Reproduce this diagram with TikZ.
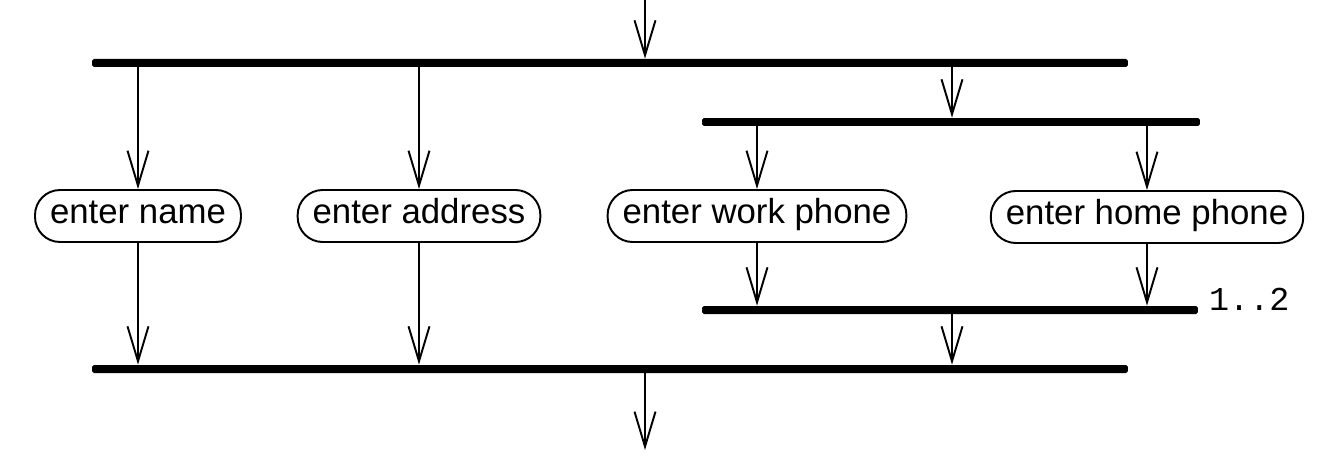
\documentclass[tikz,border=0pt]{standalone}
\usepackage{fontspec}
\setmainfont{Liberation Sans}
\newfontfamily\barlabelfont{Liberation Mono}
\usetikzlibrary{arrows.meta}
\begin{document}
\begin{tikzpicture}[x=0.02cm,y=-0.02cm]
		\begin{scope}[scale=1]
		
		\tikzstyle{myaction}=[rectangle,
		draw=black,
		line width=1.1pt,
		rounded corners=0.5cm,
		inner xsep=0.3cm,
		inner ysep=0pt,
		text height=14pt,
		text depth=6pt,
		minimum height=1.04cm,
		font=\fontsize{19.8}{23}\selectfont
		]
		\tikzstyle{mybar}=[rectangle,
		fill=black,
		inner sep=0pt,
		minimum height=0.16cm,
		rounded corners=1pt
		]
		\tikzstyle{myflow}=[line width=1.1pt,
		-{Straight Barb[length=0.7cm,width=0.42cm,line width=1.1pt]}
		]
		
		\useasboundingbox (0,0) rectangle (1336,466);
		
		\coordinate (pstart) at (645, 0);
		\coordinate (pend) at (645, 450);
		\coordinate (pfork1) at (610, 63);
		\coordinate (pfork2) at (951, 122);
		\coordinate (pjoin2) at (950, 310);
		\coordinate (pjoin1) at (610, 369);
		
		\node[mybar, minimum width=20.72cm] (fork1) at (pfork1) {};
		\node[mybar, minimum width=9.96cm] (fork2) at (pfork2) {};
		\node[mybar, minimum width=9.92cm] (join2) at (pjoin2) {};
		\node[mybar, minimum width=20.72cm] (join1) at (pjoin1) {};
		
		\node[myaction] (name) at (138, 216) {enter name};
		\node[myaction] (address) at (419, 216) {enter address};
		\node[myaction] (work) at (757, 216) {enter work phone};
		\node[myaction] (home) at (1147, 217) {enter home phone};
		
		\node[anchor=west, font=\barlabelfont\fontsize{19}{22}\selectfont] (mult) at (1203, 299) {1..2};
		
		\draw[myflow] (pstart) -- (fork1.north -| pstart);
		\draw[myflow] (fork1.south -| name) -- (name);
		\draw[myflow] (fork1.south -| address) -- (address);
		\draw[myflow] (fork1.south -| 952,0) -- (fork2.north -| 952,0);
		\draw[myflow] (fork2.south -| work) -- (work);
		\draw[myflow] (fork2.south -| home) -- (home);
		\draw[myflow] (work) -- (join2.north -| work);
		\draw[myflow] (home) -- (join2.north -| home);
		\draw[myflow] (join2.south -| 952,0) -- (join1.north -| 952,0);
		\draw[myflow] (name) -- (join1.north -| name);
		\draw[myflow] (address) -- (join1.north -| address);
		\draw[myflow] (join1.south -| pend) -- (pend);
		
		\end{scope}
\end{tikzpicture}
\end{document}
